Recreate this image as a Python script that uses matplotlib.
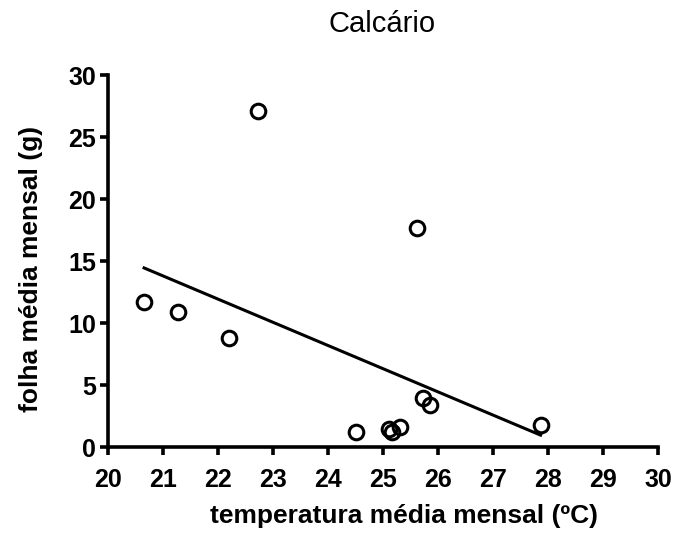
import matplotlib.pyplot as plt
import numpy as np

plt.rcParams['font.family'] = ['Liberation Sans', 'DejaVu Sans']

# temperatura média mensal (ºC) e folha média mensal (g)
temperatura = [20.65, 21.27, 22.2, 22.73, 24.5, 25.1, 25.15, 25.3, 25.62, 25.72, 25.85, 27.86]
folha = [11.7, 10.9, 8.8, 27.1, 1.2, 1.5, 1.2, 1.6, 17.7, 4.0, 3.4, 1.8]

titulo = "Calcário"
xticks = list(range(20, 31))
yticks = [0, 5, 10, 15, 20, 25, 30]

fig = plt.figure(figsize=(6.9, 5.33), dpi=100)
ax = fig.add_axes([0.157, 0.161, 0.797, 0.698])

# reta de regressão linear
a, b = np.polyfit(temperatura, folha, 1)
xr = np.array([min(temperatura), max(temperatura)])
ax.plot(xr, a * xr + b, color='black', lw=2.2, zorder=2)

ax.plot(temperatura, folha, 'o', ms=10.5, mfc='none', mec='black', mew=2.2,
        zorder=3, clip_on=False)

ax.set_xlim(20, 30)
ax.set_ylim(0, 30)
ax.set_xticks(xticks)
ax.set_yticks(yticks)
for s in ['top', 'right']:
    ax.spines[s].set_visible(False)
for s in ['left', 'bottom']:
    ax.spines[s].set_linewidth(2.6)
ax.tick_params(width=2.6, length=6, labelsize=18)
ax.tick_params(axis='x', pad=9)
ax.tick_params(axis='y', pad=3)
for lab in ax.get_xticklabels() + ax.get_yticklabels():
    lab.set_fontweight('bold')

ax.set_xlabel("temperatura média mensal (ºC)", fontsize=19, fontweight='bold')
ax.set_ylabel("folha média mensal (g)", fontsize=19, fontweight='bold')
ax.xaxis.set_label_coords(0.538, -0.152)
ax.yaxis.set_label_coords(-0.118, 0.48)
fig.text(0.554, 0.955, titulo, fontsize=21, ha='center', va='center')

fig.savefig('out.png', dpi=100)
